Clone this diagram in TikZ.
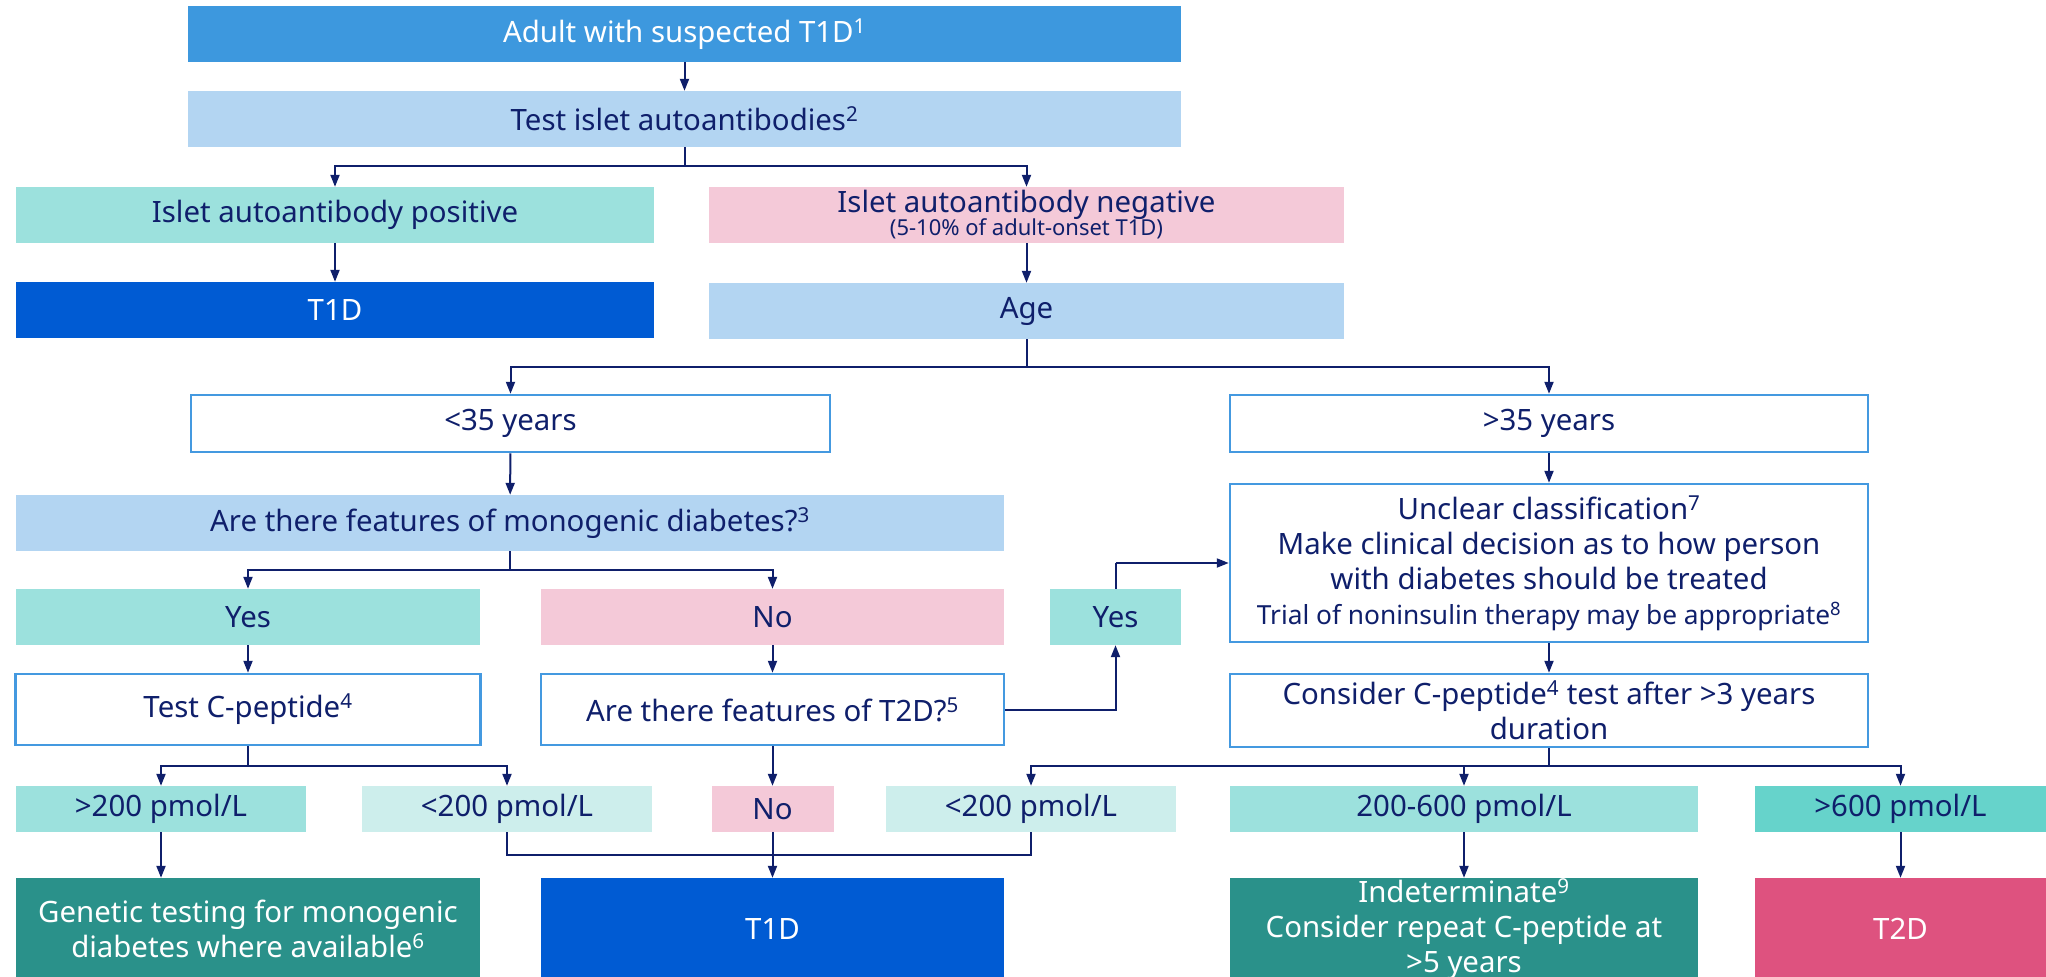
\documentclass[tikz,border=0pt]{standalone}
\usepackage{fontspec}
\setmainfont{Noto Sans}
\usetikzlibrary{arrows.meta}

\definecolor{navy}{HTML}{0F1F6B}
\definecolor{topblue}{HTML}{3D98DE}
\definecolor{paleblue}{HTML}{B3D5F2}
\definecolor{tealA}{HTML}{9CE1DD}
\definecolor{pinkA}{HTML}{F4C9D8}
\definecolor{t1dblue}{HTML}{005BD3}
\definecolor{tealdark}{HTML}{2A918A}
\definecolor{t2dpink}{HTML}{DE527F}
\definecolor{tealpale}{HTML}{CDEEEC}
\definecolor{tealmid}{HTML}{66D3CB}
\definecolor{edgeblue}{HTML}{4499E0}

\tikzset{
  box/.style={rectangle, inner sep=0pt, align=center, text=navy,
    font=\fontsize{29.4}{35}\selectfont},
  fillbox/.style={box, fill=#1},
  darkbox/.style={box, fill=#1, text=white},
  linebox/.style={box, fill=white, draw=edgeblue, line width=2.5pt},
  wire/.style={draw=navy, line width=2pt},
  arr/.style={wire, -{Triangle[length=12pt,width=9pt]}},
}

\begin{document}
\begin{tikzpicture}[x=1pt, y=-1pt]
\useasboundingbox (0,0) rectangle (2046,977);

% --- top of the chart ---
\node[darkbox=topblue, minimum width=993, minimum height=56] (adult) at (684.5,34)
  {Adult with suspected T1D\textsuperscript{1}};
\node[fillbox=paleblue, minimum width=993, minimum height=56] (islet) at (684.5,119)
  {Test islet autoantibodies\textsuperscript{2}};
\node[fillbox=tealA, minimum width=638, minimum height=56] (pos) at (335,215)
  {Islet autoantibody positive};
\node[fillbox=pinkA, minimum width=635, minimum height=56] (neg) at (1026.5,215)
  {Islet autoantibody negative\\[-12pt]{\fontsize{22}{26}\selectfont (5-10\% of adult-onset T1D)}};
\node[darkbox=t1dblue, minimum width=638, minimum height=56] (t1da) at (335,310) {T1D};
\node[fillbox=paleblue, minimum width=635, minimum height=56] (age) at (1026.5,311) {Age};

% --- age split ---
\node[linebox, minimum width=639, minimum height=57] (young) at (510.5,423.5) {<35 years};
\node[linebox, minimum width=638, minimum height=57] (old) at (1549,423.5) {>35 years};
\node[fillbox=paleblue, minimum width=988, minimum height=56] (mono) at (510,523)
  {Are there features of monogenic diabetes?\textsuperscript{3}};
\node[linebox, minimum width=638, minimum height=158] (unclear) at (1549,563)
  {Unclear classification\textsuperscript{7}\\
   Make clinical decision as to how person\\
   with diabetes should be treated\\
   {\fontsize{26.3}{35}\selectfont Trial of noninsulin therapy may be appropriate\textsuperscript{8}}};

\node[fillbox=tealA, minimum width=464, minimum height=56] (yesa) at (248,617) {Yes};
\node[fillbox=pinkA, minimum width=463, minimum height=56] (noa) at (772.5,617) {No};
\node[fillbox=tealA, minimum width=131, minimum height=56] (yesb) at (1115.5,617) {Yes};

\node[linebox, minimum width=465, minimum height=71] (cpep) at (248,709.5)
  {Test C-peptide\textsuperscript{4}};
\node[linebox, minimum width=463, minimum height=71] (t2dq) at (772.5,709.5)
  {Are there features of T2D?\textsuperscript{5}};
\node[linebox, minimum width=638, minimum height=73] (later) at (1549,710.5)
  {Consider C-peptide\textsuperscript{4} test after >3 years\\duration};

% --- C-peptide results ---
\node[fillbox=tealA, minimum width=290, minimum height=46] (hiA) at (161,809) {>200 pmol/L};
\node[fillbox=tealpale, minimum width=290, minimum height=46] (loA) at (507,809) {<200 pmol/L};
\node[fillbox=pinkA, minimum width=122, minimum height=46] (nob) at (772.5,809) {No};
\node[fillbox=tealpale, minimum width=290, minimum height=46] (loB) at (1031,809) {<200 pmol/L};
\node[fillbox=tealA, minimum width=468, minimum height=46] (mid) at (1464,809) {200-600 pmol/L};
\node[fillbox=tealmid, minimum width=291, minimum height=46] (hiB) at (1900.5,809) {>600 pmol/L};

% --- outcomes ---
\node[darkbox=tealdark, minimum width=464, minimum height=102] (gene) at (248,929)
  {Genetic testing for monogenic\\diabetes where available\textsuperscript{6}};
\node[darkbox=t1dblue, minimum width=463, minimum height=102] (t1db) at (772.5,929) {T1D};
\node[darkbox=tealdark, minimum width=468, minimum height=102] (indet) at (1464,929)
  {Indeterminate\textsuperscript{9}\\Consider repeat C-peptide at\\>5 years};
\node[darkbox=t2dpink, minimum width=291, minimum height=102] (t2d) at (1900.5,929) {T2D};

% branch points
\coordinate (j1) at (684.5,166);
\coordinate (j2) at (1026.5,367);
\coordinate (j3) at (510,570);
\coordinate (j4) at (248,766);
\coordinate (j5) at (1549,766);
\coordinate (j6) at (772.5,855);
\coordinate (j7) at (1115.5,563);

% --- connectors ---
\draw[arr] (adult) -- (islet);
\draw[wire] (islet) -- (j1);
\draw[arr] (j1) -| (pos);
\draw[arr] (j1) -| (neg);
\draw[arr] (pos) -- (t1da);
\draw[arr] (neg) -- (age);

\draw[wire] (age) -- (j2);
\draw[arr] (j2) -| (young);
\draw[arr] (j2) -| (old);
\draw[arr] (young) -- (mono);
\draw[arr] (old) -- (unclear);

\draw[wire] (mono) -- (j3);
\draw[arr] (j3) -| (yesa);
\draw[arr] (j3) -| (noa);
\draw[arr] (yesa) -- (cpep);
\draw[arr] (noa) -- (t2dq);
\draw[arr] (t2dq.east) -| (yesb.south);
\draw[wire] (yesb.north) -- (j7);
\draw[arr] (j7) -- (unclear.west |- j7);
\draw[arr] (unclear) -- (later);

\draw[wire] (cpep) -- (j4);
\draw[arr] (j4) -| (hiA);
\draw[arr] (j4) -| (loA);
\draw[arr] (t2dq) -- (nob);
\draw[wire] (later) -- (j5);
\draw[arr] (j5) -| (loB);
\draw[arr] (j5) -| (mid);
\draw[arr] (j5) -| (hiB);

\draw[arr] (hiA.south) -- (hiA.south |- gene.north);
\draw[wire] (loA.south) |- (j6) -| (loB.south);
\draw[arr] (nob) -- (t1db);
\draw[arr] (mid) -- (indet);
\draw[arr] (hiB) -- (t2d);
\end{tikzpicture}
\end{document}
